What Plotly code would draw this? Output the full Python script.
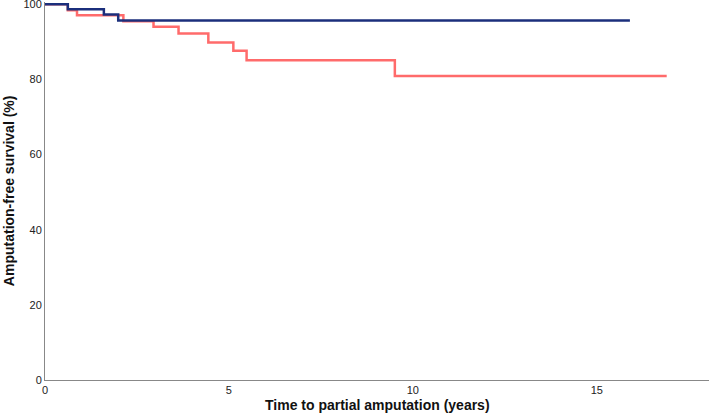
import plotly.graph_objects as go

# Kaplan-Meier step data (time in years, survival in %)
blue_time = [0, 0.62, 1.6, 1.99, 15.9]
blue_surv = [100, 98.7, 97.3, 95.7, 95.7]

red_time = [0, 0.62, 0.87, 2.13, 2.95, 3.63, 4.44, 5.12, 5.48, 9.51, 16.9]
red_surv = [100, 98.4, 97.1, 95.5, 94.0, 92.2, 89.8, 87.6, 85.1, 80.9, 80.9]

x_ticks = [0, 5, 10, 15]
y_ticks = [0, 20, 40, 60, 80, 100]

x_title = "Time to partial amputation (years)"
y_title = "Amputation-free survival (%)"

fig = go.Figure()
fig.add_trace(go.Scatter(x=red_time, y=red_surv, mode="lines",
                         line=dict(color="#ff6b6b", width=2.5, shape="hv"),
                         showlegend=False))
fig.add_trace(go.Scatter(x=blue_time, y=blue_surv, mode="lines",
                         line=dict(color="#1b2f7c", width=2.5, shape="hv"),
                         showlegend=False))

fig.update_layout(
    width=709, height=418,
    margin=dict(l=45, r=0, t=2, b=38, autoexpand=False),
    paper_bgcolor="white", plot_bgcolor="white",
    font=dict(family="Liberation Sans, Arial, sans-serif", size=11, color="#222"),
    xaxis=dict(range=[0, 18.05], tickvals=x_ticks, showgrid=False, zeroline=False,
               showline=True, linecolor="#888", linewidth=1, ticks="",
               automargin=False),
    yaxis=dict(range=[0, 100.6], tickvals=y_ticks, showgrid=False, zeroline=False,
               showline=True, linecolor="#888", linewidth=1, ticks="",
               automargin=False, ticklabeloverflow="allow"),
    annotations=[
        dict(text="<b>" + x_title + "</b>", xref="paper", yref="paper",
             x=0.5, y=-0.066, xanchor="center", yanchor="middle", showarrow=False,
             font=dict(size=14, color="#111")),
        dict(text="<b>" + y_title + "</b>", xref="paper", yref="paper",
             x=-0.054, y=0.5, xanchor="center", yanchor="middle", showarrow=False,
             textangle=-90, font=dict(size=14, color="#111")),
    ],
)

fig.write_html("out.html", config={"displayModeBar": False},
               post_script="document.body.style.margin='0';document.body.style.overflow='hidden';")
